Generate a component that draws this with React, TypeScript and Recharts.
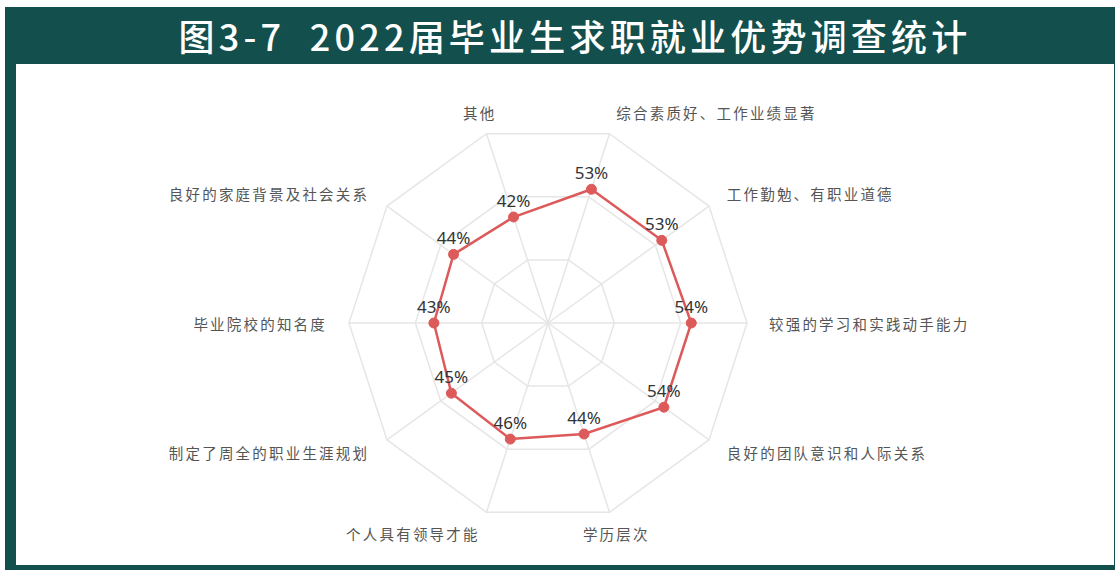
import { LabelList, PolarAngleAxis, PolarGrid, PolarRadiusAxis, Radar, RadarChart } from "recharts";

const categories = [
  "综合素质好、工作业绩显著",
  "工作勤勉、有职业道德",
  "较强的学习和实践动手能力",
  "良好的团队意识和人际关系",
  "学历层次",
  "个人具有领导才能",
  "制定了周全的职业生涯规划",
  "毕业院校的知名度",
  "良好的家庭背景及社会关系",
  "其他",
];
const shares = [53, 53, 54, 54, 44, 46, 45, 43, 44, 42];

const data = categories.map((name, i) => ({ name, value: shares[i] }));

const CX = 548;
const CY = 323;
const OUTER = 199;
const TEAL = "#134f4d";
const LINE = "#dd5a5a";

function AxisLabel(props: any) {
  const { x, y, payload } = props;
  const cx = props.cx ?? CX;
  const cy = props.cy ?? CY;
  const dx = x - cx;
  const dy = y - cy;
  const len = Math.sqrt(dx * dx + dy * dy) || 1;
  const r = OUTER + 22;
  const px = cx + (dx / len) * r;
  const py = cy + (dy / len) * r;
  const cos = dx / len;
  const text: string = payload.value;
  let anchor = "middle";
  if (Math.abs(cos) > 0.05 && !(Math.abs(cos) < 0.4 && text.length <= 4)) {
    anchor = cos > 0 ? "start" : "end";
  }
  return (
    <text
      x={px}
      y={py}
      textAnchor={anchor}
      dominantBaseline="central"
      fontSize={14.5}
      letterSpacing={2.2}
      fill="#555"
      fontFamily="'Noto Sans CJK SC', sans-serif"
    >
      {text}
    </text>
  );
}

function ValueLabel(props: any) {
  const { x, y, value } = props;
  return (
    <text
      x={x}
      y={y - 17}
      textAnchor="middle"
      dominantBaseline="central"
      fontSize={17}
      fill="#333"
      fontFamily="'Noto Sans', sans-serif"
    >
      {value}%
    </text>
  );
}

export default function App() {
  return (
    <div style={{ position: "absolute", left: 0, top: 0, width: 1115, height: 570, background: "#fff" }}>
      <div style={{ position: "absolute", left: 5, top: 7, width: 1110, height: 563, background: TEAL }} />
      <div style={{ position: "absolute", left: 16, top: 64, width: 1098, height: 501, background: "#fff" }} />
      <div
        style={{
          position: "absolute",
          left: 160,
          top: 7,
          width: 830,
          height: 57,
          lineHeight: "57px",
          color: "#fff",
          fontFamily: "'Noto Sans CJK SC', sans-serif",
          fontWeight: 500,
          fontSize: 36,
          letterSpacing: 4.2,
          whiteSpace: "nowrap",
          textAlign: "center",
        }}
      >
        图3-7&nbsp;&nbsp;2022届毕业生求职就业优势调查统计
      </div>
      <div style={{ position: "absolute", left: 0, top: 0 }}>
        <RadarChart width={1115} height={570} data={data} cx={CX} cy={CY} outerRadius={OUTER} startAngle={72} endAngle={-288}>
          <PolarGrid gridType="polygon" stroke="#e6e6e6" strokeWidth={1.5} />
          <PolarRadiusAxis domain={[0, 75]} tickCount={4} tick={false} axisLine={false} />
          <PolarAngleAxis dataKey="name" tick={AxisLabel} tickLine={false} axisLine={false} />
          <Radar
            dataKey="value"
            stroke={LINE}
            strokeWidth={2.5}
            fill="none"
            fillOpacity={0}
            dot={{ r: 5, fill: LINE, stroke: LINE, strokeWidth: 1, fillOpacity: 1 }}
            isAnimationActive={false}
          >
            <LabelList dataKey="value" content={ValueLabel} />
          </Radar>
        </RadarChart>
      </div>
    </div>
  );
}
